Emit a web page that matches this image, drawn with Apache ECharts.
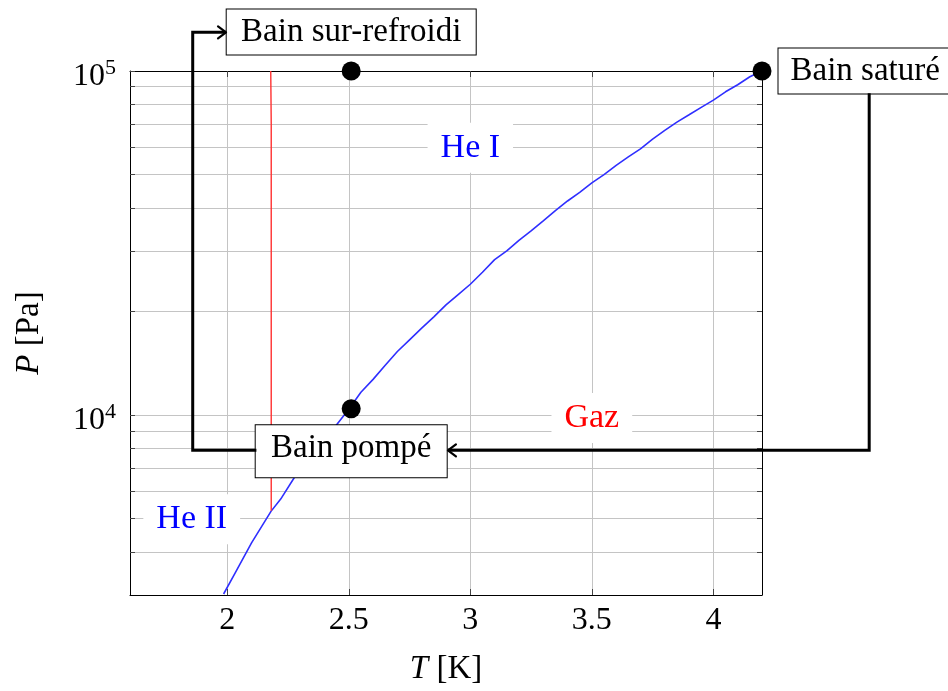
<!DOCTYPE html>
<html><head><meta charset="utf-8">
<script src="https://cdn.jsdelivr.net/npm/echarts@6/dist/echarts.min.js"></script>
<style>html,body{margin:0;padding:0;background:#fff}#c{width:948px;height:691px}</style>
</head><body><div id="c"></div>
<script>
// ---------- data ----------
const satT = [1.985, 2.03, 2.1, 2.18, 2.22, 2.28, 2.35, 2.4, 2.45, 2.5, 2.55, 2.6, 2.65, 2.7, 2.75, 2.8, 2.85, 2.9, 2.95, 3.0, 3.05, 3.1, 3.15, 3.2, 3.25, 3.3, 3.35, 3.4, 3.45, 3.5, 3.55, 3.6, 3.65, 3.7, 3.75, 3.8, 3.85, 3.9, 3.95, 4.0, 4.05, 4.1, 4.15, 4.2];
const satP = [3020, 3450, 4250, 5250, 5700, 6650, 7650, 8450, 9380, 10400, 11650, 12700, 13950, 15300, 16550, 17900, 19300, 20900, 22400, 24000, 26000, 28300, 30000, 32200, 34300, 36700, 39300, 41900, 44400, 47300, 50000, 53200, 56300, 59400, 63400, 67200, 71000, 74600, 78400, 82300, 87000, 91200, 96200, 100000];
const lambdaT = [2.181, 2.181, 2.179];
const lambdaP = [5270, 70000, 100000];
const stateNames = ['Bain sur-refroidi', 'Bain pompé', 'Bain saturé'];
const stateT = [2.51, 2.51, 4.2];
const stateP = [100000, 10430, 100000];
const phaseNames = ['He I', 'Gaz', 'He II'];
const phaseT = [3.0, 3.5, 1.854];
const phaseP = [59800, 9800, 4980];
const xTickValues = [2, 2.5, 3, 3.5, 4];
const yLabelValues = [10000, 100000];
const yGridValues = [4000, 5000, 6000, 7000, 8000, 9000, 10000, 20000, 30000, 40000, 50000, 60000, 70000, 80000, 90000, 100000];

// ---------- layout / style ----------
const FONT = '"Liberation Serif", "Times New Roman", serif';
const FS = 32;      // axis text
const FSB = 33;     // boxed labels
const FSP = 34;     // phase labels
const phaseColors = ['#0000ff', '#ff0000', '#0000ff'];
const stateLabelCfg = [
  {position: 'top', distance: 7, width: 227, align: 'center', padding: [7, 11, 7, 11]},
  {position: 'bottom', distance: 7, width: 167, align: 'center', padding: [8, 12, 13, 12]},
  {position: 'right', distance: 7, align: 'left', padding: [7, 12, 7, 12]}
];
// arrow routes (data coordinates)
const arrowRoutes = [
  {T: [4.641, 4.641, 2.908], P: [86150, 7900, 7900]},
  {T: [2.120, 1.858, 1.858, 1.995], P: [7900, 7900, 129500, 129500]}
];

const chart = echarts.init(document.getElementById('c'), null, {renderer: 'canvas'});

const zip = (a, b) => a.map((v, i) => [v, b[i]]);
const gridColor = '#c4c4c4';

const option = {
  animation: false,
  backgroundColor: '#fff',
  textStyle: {fontFamily: FONT},
  grid: {left: 130, right: 186, top: 71, bottom: 95},
  xAxis: [{
    type: 'value', min: 1.6, max: 4.2, position: 'bottom',
    name: '{i|T} [K]', nameLocation: 'middle', nameGap: 58,
    nameTextStyle: {fontFamily: FONT, fontSize: FSB, color: '#000',
      rich: {i: {fontFamily: FONT, fontSize: FSB, fontStyle: 'italic', color: '#000'}}},
    axisLine: {show: true, onZero: false, lineStyle: {color: '#000', width: 1}},
    axisTick: {show: true, inside: true, length: 6, customValues: xTickValues, lineStyle: {color: '#444'}},
    axisLabel: {show: true, customValues: xTickValues, fontFamily: FONT, fontSize: FS, color: '#000', margin: 10},
    splitLine: {show: true, lineStyle: {color: gridColor, width: 1}}
  }, {
    type: 'value', min: 1.6, max: 4.2, position: 'top',
    axisLine: {show: true, onZero: false, lineStyle: {color: '#000', width: 1}},
    axisTick: {show: true, inside: true, length: 6, customValues: xTickValues, lineStyle: {color: '#444'}},
    axisLabel: {show: false},
    splitLine: {show: false}
  }],
  yAxis: [{
    type: 'log', logBase: 10, min: 3000, max: 100000, position: 'left',
    name: '{i|P} [Pa]', nameLocation: 'middle', nameGap: 84,
    nameTextStyle: {fontFamily: FONT, fontSize: FSB, color: '#000',
      rich: {i: {fontFamily: FONT, fontSize: FSB, fontStyle: 'italic', color: '#000'}}},
    axisLine: {show: true, onZero: false, lineStyle: {color: '#000', width: 1}},
    axisTick: {show: true, inside: true, length: 5, customValues: yGridValues, lineStyle: {color: '#444'}},
    axisLabel: {
      show: true, customValues: yLabelValues, margin: 14, padding: [8, 0, 0, 0],
      formatter: v => '{b|10}{s|' + Math.round(Math.log10(v)) + '}',
      rich: {
        b: {fontFamily: FONT, fontSize: FS, color: '#000', lineHeight: 36, verticalAlign: 'bottom'},
        s: {fontFamily: FONT, fontSize: 22, color: '#000', lineHeight: 16, verticalAlign: 'top'}
      }
    },
    splitLine: {show: true, lineStyle: {color: gridColor, width: 1}}
  }, {
    type: 'log', logBase: 10, min: 3000, max: 100000, position: 'right',
    axisLine: {show: true, onZero: false, lineStyle: {color: '#000', width: 1}},
    axisTick: {show: true, inside: true, length: 5, customValues: yGridValues, lineStyle: {color: '#444'}},
    axisLabel: {show: false},
    splitLine: {show: false}
  }],
  series: [
    {
      name: 'saturation', type: 'line', xAxisIndex: 0, yAxisIndex: 0,
      data: zip(satT, satP), showSymbol: false, symbol: 'none', z: 2,
      lineStyle: {color: '#2f2fff', width: 1.6}
    },
    {
      name: 'lambda', type: 'line', xAxisIndex: 0, yAxisIndex: 0,
      data: zip(lambdaT, lambdaP), showSymbol: false, symbol: 'none', z: 2,
      lineStyle: {color: '#ff3030', width: 1.4}
    },
    {
      name: 'phases', type: 'scatter', xAxisIndex: 0, yAxisIndex: 0, z: 3,
      symbolSize: 0, clip: false, itemStyle: {opacity: 1},
      data: phaseNames.map((n, i) => ({
        value: [phaseT[i], phaseP[i]], name: n,
        label: {color: phaseColors[i]}
      })),
      label: {show: true, position: 'inside', formatter: '{b}', fontFamily: FONT, fontSize: FSP,
        lineHeight: 34, backgroundColor: '#fff', padding: [8, 13, 8, 13]}
    },
    {
      name: 'states', type: 'scatter', xAxisIndex: 0, yAxisIndex: 0, z: 6,
      symbol: 'circle', symbolSize: 19, clip: false,
      itemStyle: {color: '#000', opacity: 1},
      data: stateNames.map((n, i) => ({
        value: [stateT[i], stateP[i]], name: n,
        label: Object.assign({show: true, formatter: '{b}', fontFamily: FONT, fontSize: FSB, color: '#000',
          backgroundColor: '#fff', borderColor: '#000', borderWidth: 1, lineHeight: 31},
          stateLabelCfg[i])
      }))
    }
  ]
};
chart.setOption(option);

// arrows, positioned through the chart's own scales
function buildArrows() {
  const els = [];
  arrowRoutes.forEach((r) => {
    const pts = r.T.map((t, i) => chart.convertToPixel({gridIndex: 0}, [t, r.P[i]]));
    els.push({type: 'polyline', z: 20, shape: {points: pts},
      style: {stroke: '#000', lineWidth: 3, fill: null, lineJoin: 'miter'}});
    const a = pts[pts.length - 2], b = pts[pts.length - 1];
    const ang = Math.atan2(b[1] - a[1], b[0] - a[0]);
    const L = 8, W = 6;
    const back = [b[0] - L * Math.cos(ang), b[1] - L * Math.sin(ang)];
    const nx = -Math.sin(ang), ny = Math.cos(ang);
    els.push({type: 'polyline', z: 21, shape: {points: [
      [back[0] + W * nx, back[1] + W * ny], [b[0], b[1]], [back[0] - W * nx, back[1] - W * ny]]},
      style: {stroke: '#000', lineWidth: 2.2, fill: null, lineJoin: 'round', lineCap: 'round'}});
  });
  return els;
}
chart.setOption({graphic: buildArrows()});
</script>
</body></html>
